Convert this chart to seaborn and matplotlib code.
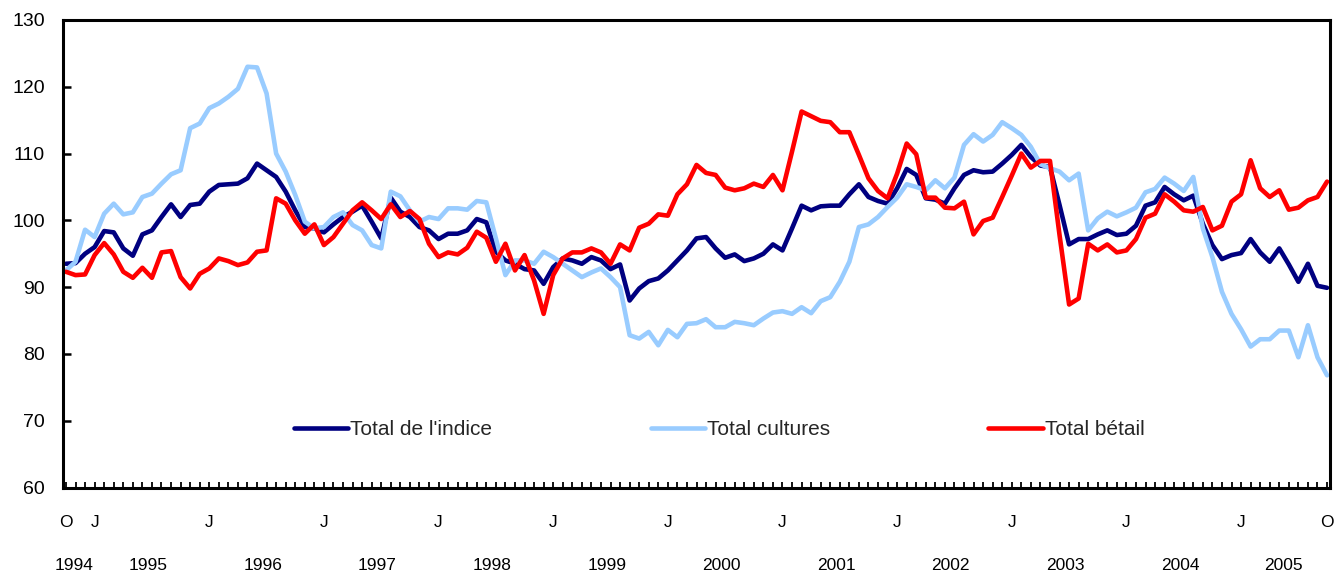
import numpy as np
import pandas as pd
import matplotlib
matplotlib.use("Agg")
import matplotlib.pyplot as plt
import seaborn as sns

# ---- data (monthly, Oct 1994 .. Oct 2005) ----
months = pd.date_range("1994-10-01", "2005-10-01", freq="MS")

total_indice = [
    93.5, 93.6, 95.0, 96.0, 98.4, 98.2, 95.8, 94.7, 97.9, 98.5,
    100.5, 102.4, 100.5, 102.3, 102.5, 104.3, 105.3, 105.4, 105.5, 106.3,
    108.5, 107.5, 106.5, 104.3, 101.5, 99.0, 98.8, 98.2, 99.4, 100.5,
    101.3, 102.2, 99.8, 97.3, 103.4, 101.3, 100.5, 99.0, 98.5, 97.2,
    98.0, 98.0, 98.5, 100.2, 99.7, 95.3, 94.0, 93.5, 92.7, 92.5,
    90.5, 93.0, 94.3, 94.0, 93.5, 94.5, 94.0, 92.7, 93.4, 88.0,
    89.8, 90.9, 91.3, 92.5, 94.0, 95.5, 97.3, 97.5, 95.8, 94.4,
    94.9, 93.9, 94.3, 95.0, 96.4, 95.5, 98.8, 102.2, 101.5, 102.1,
    102.2, 102.2, 103.9, 105.4, 103.5, 102.9, 102.5, 104.8, 107.7, 106.8,
    103.3, 103.1, 102.5, 104.8, 106.8, 107.5, 107.2, 107.3, 108.5, 109.8,
    111.3, 109.5, 108.2, 108.0, 102.3, 96.4, 97.2, 97.2, 97.9, 98.5,
    97.8, 98.0, 99.2, 102.2, 102.7, 105.0, 103.9, 103.0, 103.7, 99.5,
    96.3, 94.2, 94.8, 95.1, 97.2, 95.2, 93.8, 95.8, 93.4, 90.8,
    93.5, 90.2, 89.9,
]
total_cultures = [
    92.5, 93.8, 98.6, 97.5, 101.0, 102.5, 100.9, 101.2, 103.5, 104.0,
    105.5, 106.9, 107.5, 113.8, 114.5, 116.8, 117.5, 118.5, 119.7, 123.0,
    122.9, 119.0, 110.0, 107.3, 103.8, 99.8, 98.8, 99.0, 100.5, 101.2,
    99.3, 98.5, 96.3, 95.8, 104.3, 103.6, 101.5, 99.8, 100.5, 100.2,
    101.8, 101.8, 101.6, 102.9, 102.7, 97.3, 91.8, 94.0, 94.0, 93.5,
    95.3, 94.5, 93.5, 92.5, 91.5, 92.2, 92.8, 91.5, 90.0, 82.8,
    82.3, 83.3, 81.3, 83.6, 82.5, 84.5, 84.6, 85.2, 84.0, 84.0,
    84.8, 84.6, 84.3, 85.3, 86.2, 86.4, 86.0, 87.0, 86.1, 87.9,
    88.5, 90.8, 93.8, 99.0, 99.4, 100.5, 102.0, 103.4, 105.4, 105.0,
    104.5, 106.0, 104.8, 106.4, 111.3, 112.9, 111.8, 112.8, 114.7, 113.8,
    112.8, 111.0, 108.4, 107.8, 107.3, 106.0, 107.0, 98.5, 100.3, 101.3,
    100.6, 101.2, 101.9, 104.2, 104.7, 106.4, 105.5, 104.4, 106.5, 98.8,
    94.5, 89.3, 86.0, 83.7, 81.1, 82.2, 82.2, 83.5, 83.5, 79.5,
    84.3, 79.5, 76.8,
]
total_betail = [
    92.3, 91.8, 91.9, 94.8, 96.6, 94.9, 92.3, 91.4, 92.9, 91.4,
    95.2, 95.4, 91.5, 89.8, 92.0, 92.8, 94.3, 93.9, 93.3, 93.7,
    95.3, 95.5, 103.3, 102.5, 100.0, 98.0, 99.4, 96.3, 97.5, 99.5,
    101.5, 102.7, 101.5, 100.2, 102.4, 100.5, 101.4, 100.2, 96.5, 94.5,
    95.2, 94.9, 95.9, 98.3, 97.4, 93.8, 96.5, 92.5, 94.8, 91.0,
    86.0, 91.8, 94.3, 95.2, 95.2, 95.8, 95.2, 93.5, 96.4, 95.5,
    98.9, 99.5, 100.9, 100.7, 103.9, 105.4, 108.3, 107.1, 106.8, 104.9,
    104.5, 104.8, 105.5, 105.0, 106.8, 104.5, 110.3, 116.3, 115.6, 114.9,
    114.7, 113.2, 113.2, 109.8, 106.3, 104.4, 103.3, 107.0, 111.5, 109.9,
    103.4, 103.4, 101.9, 101.8, 102.8, 97.9, 99.9, 100.4, 103.5, 106.7,
    110.0, 107.9, 108.9, 108.9, 97.8, 87.4, 88.3, 96.5, 95.5, 96.4,
    95.2, 95.5, 97.2, 100.4, 101.0, 103.9, 102.8, 101.5, 101.3, 102.0,
    98.5, 99.2, 102.8, 103.9, 109.0, 104.8, 103.5, 104.5, 101.6, 101.9,
    103.0, 103.5, 105.8,
]
series_names = ["Total de l'indice", "Total cultures", "Total bétail"]
series_colors = ["#000080", "#99CCFF", "#FF0000"]
y_ticks = [60, 70, 80, 90, 100, 110, 120, 130]

# ---- build long table ----
idx = np.arange(len(months))
df = pd.concat([
    pd.DataFrame({"m": idx, "v": vals, "serie": name})
    for name, vals in zip(series_names, [total_indice, total_cultures, total_betail])
])

sns.set_theme(style="white")
plt.rcParams["font.family"] = ["Liberation Sans", "DejaVu Sans"]

fig = plt.figure(figsize=(13.43, 5.78), dpi=100)
ax = fig.add_axes([63 / 1343, 1 - 487.5 / 578, (1330 - 63) / 1343, (487.5 - 20) / 578])

sns.lineplot(data=df, x="m", y="v", hue="serie", hue_order=series_names,
             palette=series_colors, linewidth=3.3, ax=ax, legend=True)

ax.set_xlim(-0.31, len(months) - 1 + 0.31)
ax.set_ylim(60, 130)
ax.set_xlabel("")
ax.set_ylabel("")

# spines
for s in ax.spines.values():
    s.set_visible(True)
    s.set_color("black")
    s.set_linewidth(2.2)

# y axis
ax.set_yticks(y_ticks)
ax.set_yticklabels([str(t) for t in y_ticks])
ax.tick_params(axis="y", direction="in", length=6, width=1.8, pad=13,
               labelsize=14, colors="black", left=True)

# x axis: month ticks, O / J labels
lab_pos, lab_txt = [], []
for i, d in enumerate(months):
    if i == 0 or i == len(months) - 1:
        lab_pos.append(i); lab_txt.append("O")
    elif d.month == 1:
        lab_pos.append(i); lab_txt.append("J")
ax.set_xticks(lab_pos)
ax.set_xticklabels(lab_txt)
ax.set_xticks(idx, minor=True)
ax.tick_params(axis="x", which="both", direction="in", length=4, width=1.3,
               bottom=True, colors="black")
ax.tick_params(axis="x", which="major", pad=20, labelsize=12.5)

# year labels (second row)
years = sorted(set(d.year for d in months))
for y in years:
    ms = [i for i, d in enumerate(months) if d.year == y]
    if len(ms) == 12:
        xpos = ms[0] + 5.6
    else:
        xpos = (ms[0] + ms[-1]) / 2 - 0.1
    ax.text(xpos, -0.166, str(y), transform=ax.get_xaxis_transform(),
            ha="center", va="center", fontsize=12.5, color="black")

# legend
leg = ax.legend(loc="center", bbox_to_anchor=(0.518, 0.123), ncol=3, frameon=False,
                fontsize=15, handlelength=2.6, handletextpad=0.1, columnspacing=7.6)
for h in leg.get_lines():
    h.set_linewidth(3.3)

fig.savefig("out.png", dpi=100)
